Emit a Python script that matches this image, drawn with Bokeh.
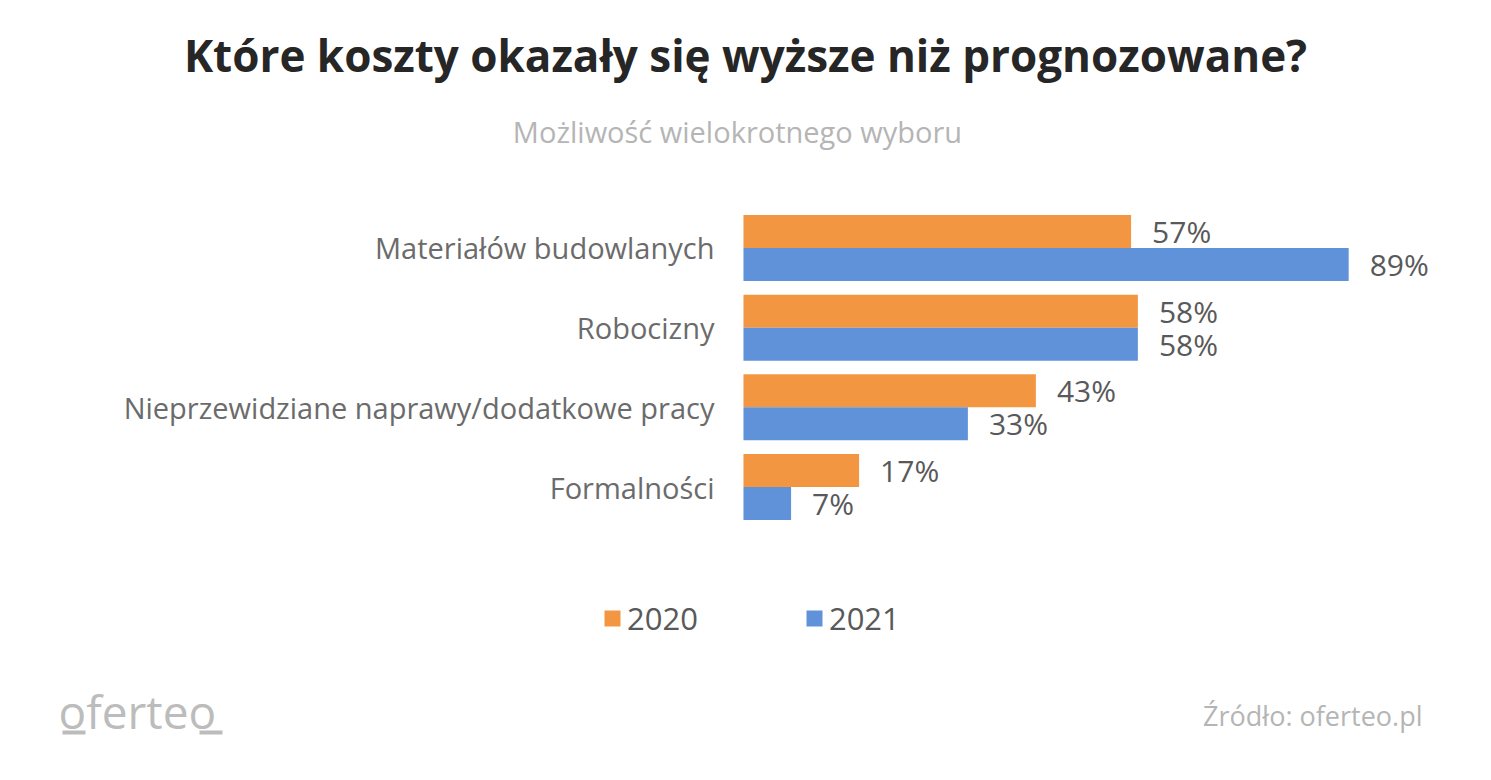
from bokeh.embed import file_html
from bokeh.resources import INLINE
from bokeh.plotting import figure
from bokeh.models import ColumnDataSource, Range1d, Label, Legend, LegendItem
from bokeh.transform import dodge
from bokeh.core.properties import value

# dane z wykresu
categories = ['Materiałów budowlanych', 'Robocizny',
              'Nieprzewidziane naprawy/dodatkowe pracy', 'Formalności']
years = ['2020', '2021']
values_2020 = [57, 58, 43, 17]
values_2021 = [89, 58, 33, 7]

ORANGE = '#F39641'
BLUE = '#6092DA'
FONT = 'Open Sans'

W, H = 1475, 764

src = ColumnDataSource(data=dict(
    cat=categories,
    pos=list(range(len(categories))),
    v20=values_2020,
    v21=values_2021,
    t20=[f'{v}%' for v in values_2020],
    t21=[f'{v}%' for v in values_2021],
))

p = figure(width=W, height=H, output_backend="svg", toolbar_location=None,
           x_axis_location=None, y_axis_location=None,
           x_range=Range1d(-109.26, 107.65), y_range=Range1d(6.481, -3.105),
           min_border=0, outline_line_color=None)
p.grid.visible = False
p.background_fill_color = 'white'
p.border_fill_color = 'white'

# zakres pomocniczy w pikselach (do tytulow, logo itp.)
p.extra_x_ranges = {'px': Range1d(0, W)}
p.extra_y_ranges = {'py': Range1d(H, 0)}

bar_h = 0.414
r20 = p.hbar(y=dodge('pos', -bar_h / 2), right='v20', left=0, height=bar_h,
             source=src, color=ORANGE, line_color=None)
r21 = p.hbar(y=dodge('pos', bar_h / 2), right='v21', left=0, height=bar_h,
             source=src, color=BLUE, line_color=None)

# etykiety kategorii
p.text(x=0, y='pos', text='cat', source=src, x_offset=-29,
       text_align='right', text_baseline='middle',
       text_font=value(FONT), text_font_size='29px', text_color='#6b6b6b')

# wartosci
p.text(x='v20', y=dodge('pos', -bar_h / 2), text='t20', source=src, x_offset=21,
       text_align='left', text_baseline='middle',
       text_font=value(FONT), text_font_size='30px', text_color='#595959')
p.text(x='v21', y=dodge('pos', bar_h / 2), text='t21', source=src, x_offset=21,
       text_align='left', text_baseline='middle',
       text_font=value(FONT), text_font_size='30px', text_color='#595959')


def add_label(x, y, text, size, color, align='left', style='normal'):
    p.add_layout(Label(x=x, y=y, text=text, x_range_name='px', y_range_name='py',
                       text_font=FONT, text_font_size=size, text_color=color,
                       text_align=align, text_baseline='middle',
                       text_font_style=style))


add_label(745, 54, 'Które koszty okazały się wyższe niż prognozowane?', '44px',
          '#262626', align='center', style='bold')
add_label(737, 131, 'Możliwość wielokrotnego wyboru', '29px', '#b5b5b5', align='center')
add_label(1422, 715, 'Źródło: oferteo.pl', '27px', '#b5b5b5', align='right')
add_label(58, 710, 'oferteo', '46px', '#bcbcbc', style='normal')
p.segment(x0=[62, 199], x1=[85, 222], y0=[732, 732], y1=[732, 732],
          x_range_name='px', y_range_name='py', line_color='#bcbcbc', line_width=4)

legend = Legend(items=[LegendItem(label=years[0], renderers=[r20]),
                       LegendItem(label=years[1], renderers=[r21])],
                orientation='horizontal', location=(602, 125),
                glyph_width=20, glyph_height=20, label_standoff=5, spacing=106,
                padding=0, margin=0, border_line_color=None,
                background_fill_alpha=0,
                label_text_font=FONT, label_text_font_size='31px',
                label_text_color='#595959')
p.add_layout(legend, 'center')

open("out.html", "w").write(file_html(p, INLINE))
